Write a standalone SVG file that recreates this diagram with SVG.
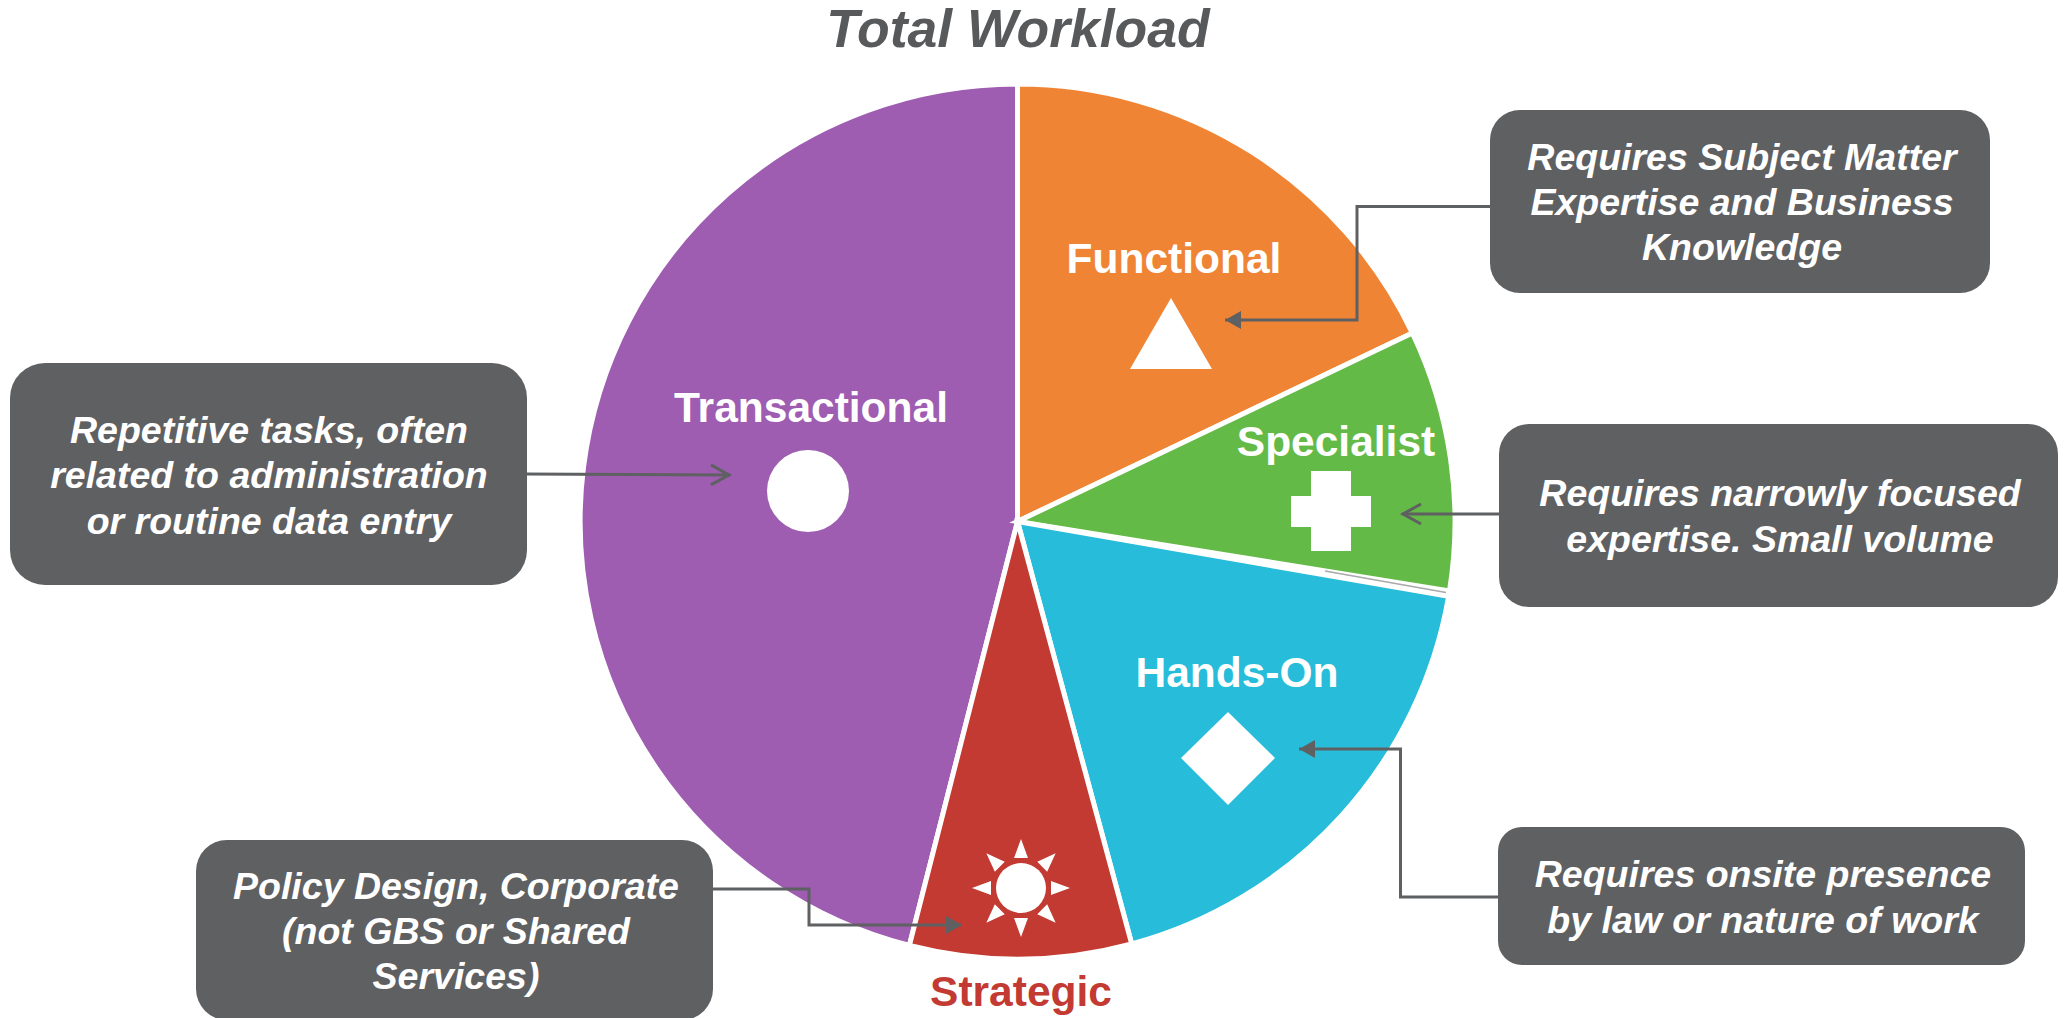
<svg xmlns="http://www.w3.org/2000/svg" xmlns:xlink="http://www.w3.org/1999/xlink" width="2066" height="1018" viewBox="0 0 2066 1018">
<style>
text{font-family:"Liberation Sans",Arial,sans-serif;font-weight:bold;text-anchor:middle}
.lab{font-size:42.500px;fill:#fff}
.note{font-size:37.500px;font-style:italic;fill:#fff}
.box{fill:#5f6062}
.sl{stroke:#fff;stroke-width:5}
.ic{fill:#fff}
.c{fill:none;stroke:#5f6062;stroke-width:3}
</style>
<defs>
<marker id="f" markerUnits="userSpaceOnUse" markerWidth="18" markerHeight="20" refX="16" refY="9" orient="auto"><path d="M0 0L16 9L0 18Z" fill="#5f6062"/></marker>
<marker id="o" markerUnits="userSpaceOnUse" markerWidth="24" markerHeight="28" refX="21" refY="12" orient="auto"><path d="M2 2L20 12L2 22" fill="none" stroke="#5f6062" stroke-width="3"/></marker>
<path id="ray" d="M0 -49L7 -30L-7 -30Z" fill="#fff"/>
</defs>
<rect width="2066" height="1018" fill="#fff"/>
<g id="all" transform="translate(0 1)">
<text id="title" x="1018" y="46" style="font-size:53.500px;font-style:italic;fill:#58595b">Total Workload</text>
<g id="pie">
<g id="transactional"><path class="sl" fill="#9e5db1" d="M1017.5 520.5V83A437.500 437.500 0 0 0 909.400 944.400Z"/></g>
<g id="functional"><path class="sl" fill="#f08435" d="M1017.5 520.5V83A437.500 437.500 0 0 1 1412.400 332.100Z"/></g>
<g id="specialist"><path class="sl" fill="#64ba46" d="M1017.5 520.5L1412.400 332.100A437.500 437.500 0 0 1 1449.500 589.900Z"/></g>
<g id="handson"><path class="sl" fill="#27bcd9" d="M1017.5 520.5L1448.600 595.400A437.500 437.500 0 0 1 1131.700 942.900Z"/></g>
<g id="strategic"><path class="sl" fill="#c23a31" d="M1017.5 520.5L1131.700 942.900A437.500 437.500 0 0 1 909.400 944.400Z"/></g>
<path d="M1325 570L1446 591.500" stroke="#a8a9ab" stroke-width="1.500" fill="none"/>
</g>
<g id="icons">
<circle class="ic" cx="808" cy="490" r="41"/>
<path class="ic" d="M1171 297L1212 368H1130Z"/>
<path class="ic" d="M1311 470H1351V495H1371V526H1351V550H1311V526H1291V495H1311Z"/>
<path class="ic" d="M1228 711L1275 757L1228 804L1181 757Z"/>
<g id="sun" transform="translate(1021 887)">
<circle class="ic" r="25"/>
<use xlink:href="#ray" href="#ray"/><use xlink:href="#ray" href="#ray" transform="rotate(45)"/><use xlink:href="#ray" href="#ray" transform="rotate(90)"/><use xlink:href="#ray" href="#ray" transform="rotate(135)"/><use xlink:href="#ray" href="#ray" transform="rotate(180)"/><use xlink:href="#ray" href="#ray" transform="rotate(225)"/><use xlink:href="#ray" href="#ray" transform="rotate(270)"/><use xlink:href="#ray" href="#ray" transform="rotate(315)"/>
</g>
</g>
<g id="labels">
<text class="lab" x="1174" y="272">Functional</text>
<text class="lab" x="1336" y="455">Specialist</text>
<text class="lab" x="811" y="421">Transactional</text>
<text class="lab" x="1237" y="686">Hands-On</text>
<text class="lab" x="1021" y="1005" style="fill:#c23a31">Strategic</text>
</g>
<g id="connectors">
<path class="c" marker-end="url(#f)" d="M1492 205.500H1357V319H1225"/>
<path class="c" marker-end="url(#o)" d="M1501 513H1402"/>
<path class="c" marker-end="url(#f)" d="M1500 896H1400.500V748H1299"/>
<path class="c" marker-end="url(#f)" d="M711 888H809V924H962"/>
<path class="c" marker-end="url(#o)" d="M525 473L730 474"/>
</g>
<g id="note-functional"><rect class="box" x="1490" y="109" width="500" height="183" rx="30"/>
<text class="note"><tspan x="1742" y="169">Requires Subject Matter</tspan><tspan x="1742" y="214">Expertise and Business</tspan><tspan x="1742" y="259">Knowledge</tspan></text></g>
<g id="note-specialist"><rect class="box" x="1499" y="423" width="559" height="183" rx="30"/>
<text class="note"><tspan x="1780" y="505">Requires narrowly focused</tspan><tspan x="1780" y="551">expertise. Small volume</tspan></text></g>
<g id="note-handson"><rect class="box" x="1498" y="826" width="527" height="138" rx="24"/>
<text class="note"><tspan x="1763" y="886">Requires onsite presence</tspan><tspan x="1763" y="932">by law or nature of work</tspan></text></g>
<g id="note-strategic"><rect class="box" x="196" y="839" width="517" height="180" rx="31"/>
<text class="note"><tspan x="456" y="898">Policy Design, Corporate</tspan><tspan x="456" y="943">(not GBS or Shared</tspan><tspan x="456" y="988">Services)</tspan></text></g>
<g id="note-transactional"><rect class="box" x="10" y="362" width="517" height="222" rx="35"/>
<text class="note"><tspan x="269" y="442">Repetitive tasks, often</tspan><tspan x="269" y="487">related to administration</tspan><tspan x="269" y="533">or routine data entry</tspan></text></g>
</g>
</svg>
